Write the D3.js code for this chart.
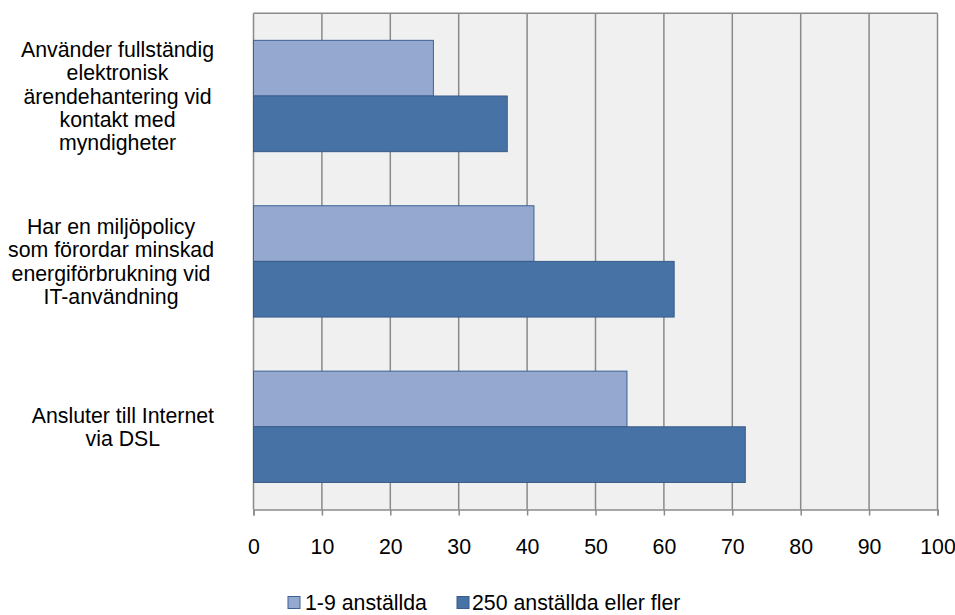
<!DOCTYPE html>
<html>
<head>
<meta charset="utf-8">
<script src="https://cdn.jsdelivr.net/npm/d3@7"></script>
<style>
  html, body { margin: 0; padding: 0; background: #ffffff; }
  svg { display: block; font-family: "Liberation Sans", Arial, sans-serif; }
</style>
</head>
<body>
<svg id="chart" width="955" height="615"></svg>
<script>
// ---- data ----
const categories = [
  ["Använder fullständig", "elektronisk", "ärendehantering vid", "kontakt med", "myndigheter"],
  ["Har en miljöpolicy", "som förordar minskad", "energiförbrukning vid", "IT-användning"],
  ["Ansluter till Internet", "via DSL"]
];
const seriesNames = ["1-9 anställda", "250 anställda eller fler"];
const small = [26.3, 41.0, 54.6];
const large = [37.1, 61.5, 71.9];
const xTicks = [0, 10, 20, 30, 40, 50, 60, 70, 80, 90, 100];

const seriesValues = [small, large];
const fills = ["#95a9d0", "#4672a6"];
const strokes = ["#3d6193", "#385d8a"];

const plot = { left: 253.5, right: 937.5, top: 13.3, bottom: 509.5 };
const fontSize = 21.3;

const svg = d3.select("#chart");

const x = d3.scaleLinear().domain([0, 100]).range([plot.left, plot.right]);
const catIdx = categories.map((c, i) => i);
const y = d3.scaleBand().domain(catIdx).range([plot.top, plot.bottom]).padding(0);
const ySub = d3.scaleBand().domain([0, 1]).range([0, y.bandwidth()]).paddingInner(0).paddingOuter(0.486);

// plot background
svg.append("rect")
  .attr("x", plot.left).attr("y", plot.top)
  .attr("width", plot.right - plot.left).attr("height", plot.bottom - plot.top)
  .attr("fill", "#f0f0f0");

// gridlines
svg.append("g").selectAll("line").data(xTicks).join("line")
  .attr("x1", d => x(d)).attr("x2", d => x(d))
  .attr("y1", plot.top).attr("y2", plot.bottom)
  .attr("stroke", "#8a8a8a").attr("stroke-width", 1.5);

// top border
svg.append("line")
  .attr("x1", plot.left).attr("x2", plot.right)
  .attr("y1", plot.top).attr("y2", plot.top)
  .attr("stroke", "#8a8a8a").attr("stroke-width", 1.5);

// bars
seriesValues.forEach((vals, s) => {
  svg.append("g").selectAll("rect").data(vals).join("rect")
    .attr("x", x(0))
    .attr("y", (d, i) => y(i) + ySub(s))
    .attr("width", d => x(d) - x(0))
    .attr("height", ySub.bandwidth())
    .attr("fill", fills[s])
    .attr("stroke", strokes[s])
    .attr("stroke-width", 1);
});

// x axis
const xAxis = d3.axisBottom(x).tickValues(xTicks).tickSize(6).tickPadding(22).tickFormat(d3.format("d"));
const gx = svg.append("g").attr("transform", `translate(0,${plot.bottom})`).call(xAxis);
gx.select(".domain").attr("stroke", "#8a8a8a").attr("stroke-width", 1.5);
gx.selectAll(".tick line").attr("stroke", "#8a8a8a").attr("stroke-width", 1.5);
gx.selectAll(".tick text")
  .attr("font-size", fontSize).attr("fill", "#000")
  .attr("font-family", '"Liberation Sans", Arial, sans-serif')
  .attr("dy", null).attr("y", 44);

// category labels (centered block, right-aligned at x=214)
const lineH = 23.3;
const labelRight = 214;
categories.forEach((lines, i) => {
  const t = svg.append("text")
    .attr("font-size", fontSize).attr("fill", "#000")
    .attr("text-anchor", "middle");
  const cy = y(i) + y.bandwidth() / 2;
  const n = lines.length;
  const firstBase = cy + 7.6 - (n - 1) / 2 * lineH;
  lines.forEach((ln, k) => {
    t.append("tspan").attr("x", 0).attr("y", firstBase + k * lineH).text(ln);
  });
  let maxW = 0;
  t.selectAll("tspan").each(function () { maxW = Math.max(maxW, this.getComputedTextLength()); });
  t.selectAll("tspan").attr("x", labelRight - maxW / 2);
});

// legend
const legendItems = [
  { sq: 288, tx: 305 },
  { sq: 457, tx: 472 }
];
seriesNames.forEach((name, s) => {
  svg.append("rect")
    .attr("x", legendItems[s].sq).attr("y", 596.5)
    .attr("width", 12).attr("height", 12)
    .attr("fill", fills[s]).attr("stroke", strokes[s]).attr("stroke-width", 1);
  svg.append("text")
    .attr("x", legendItems[s].tx).attr("y", 610)
    .attr("font-size", fontSize).attr("fill", "#000")
    .text(name);
});
</script>
</body>
</html>
